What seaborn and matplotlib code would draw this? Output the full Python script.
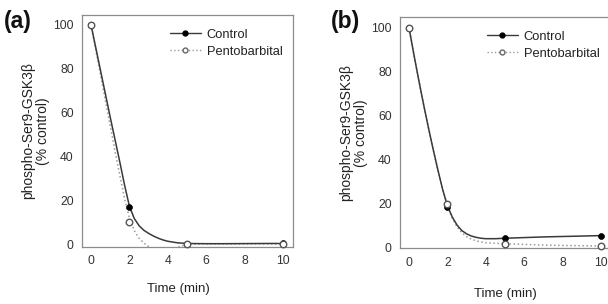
import numpy as np
import pandas as pd
import matplotlib
matplotlib.use('Agg')
import matplotlib.pyplot as plt
from matplotlib.lines import Line2D
import seaborn as sns

# measured points (time in min, % control)
time_pts = [0, 2, 5, 10]
a_control = [100, 17, 0.5, 0.6]
a_pento = [100, 10.5, 0.5, 0.5]
b_control = [100, 18.5, 4.5, 5.5]
b_pento = [100, 20, 1.8, 0.8]

# fitted curves
curve_t = [0, 0.25, 0.5, 0.75, 1, 1.25, 1.5, 1.75, 2, 2.25, 2.5, 2.75, 3, 3.25, 3.5,
           3.75, 4, 4.5, 5, 6, 7, 8, 9, 10]
a_control_fit = [100, 89.5, 79, 68.5, 58, 47.8, 37.6, 27, 17.5, 12, 8.7, 6.6, 5.2, 4.0,
                 3.0, 2.2, 1.6, 0.9, 0.6, 0.5, 0.5, 0.55, 0.6, 0.6]
a_pento_fit = [100, 88.5, 77, 65.5, 54, 42.5, 31.5, 21, 12, 6.5, 3, 0.8, -0.8, -2,
               -2.6, -2.7, -2.5, -1.2, 0.3, 0.4, 0.4, 0.4, 0.4, 0.4]
b_control_fit = [100, 88, 76.5, 65.5, 55, 45, 35.5, 26.5, 19, 14, 10.3, 7.8, 6.3, 5.3,
                 4.7, 4.3, 4.1, 4.1, 4.3, 4.6, 4.9, 5.1, 5.3, 5.5]
b_pento_fit = [100, 88, 76.5, 65.5, 55, 45, 35.5, 26.8, 19.5, 13.5, 9.5, 6.8, 5, 3.9,
               3.1, 2.6, 2.3, 2.0, 1.8, 1.5, 1.2, 1.0, 0.9, 0.8]

series_names = ['Control', 'Pentobarbital']
panel_labels = ['(a)', '(b)']

sns.set_style('white')
plt.rcParams['font.family'] = ['Liberation Sans', 'DejaVu Sans']

LINE_DARK = '#3a3a3a'
LINE_LIGHT = '#9a9a9a'
SPINE = '#8c8c8c'


def style_axes(ax, ylim):
    for s in ax.spines.values():
        s.set_visible(True)
        s.set_color(SPINE)
        s.set_linewidth(0.9)
    ax.set_xlim(-0.47, 10.52)
    ax.set_ylim(*ylim)
    ax.set_xticks([0, 2, 4, 6, 8, 10])
    ax.set_yticks([0, 20, 40, 60, 80, 100])
    ax.tick_params(axis='both', direction='out', length=3, width=0.8, color=SPINE,
                   labelsize=8.8, labelcolor='#333333', pad=3)
    ax.set_xlabel('Time (min)', fontsize=9.5, color='#222222')
    ax.set_ylabel('phospho-Ser9-GSK3β\n(% control)', fontsize=10, color='#222222',
                  labelpad=2, linespacing=1.1)


def draw_panel(ax, ctrl, pento, ctrl_fit, pento_fit, ylim, legend_x):
    fit_df = pd.DataFrame({'t': curve_t, 'c': ctrl_fit, 'p': pento_fit})
    pts_df = pd.DataFrame({'t': time_pts, 'c': ctrl, 'p': pento})

    sns.lineplot(data=fit_df, x='t', y='p', ax=ax, color=LINE_LIGHT, linestyle=':',
                 linewidth=1.1, sort=False, zorder=2)
    sns.lineplot(data=fit_df, x='t', y='c', ax=ax, color=LINE_DARK, linewidth=1.1,
                 sort=False, zorder=3)
    sns.scatterplot(data=pts_df, x='t', y='c', ax=ax, color='black', s=18,
                    edgecolor='black', linewidth=0.5, zorder=4, clip_on=False)
    sns.scatterplot(data=pts_df, x='t', y='p', ax=ax, color='white', s=22,
                    edgecolor='#555555', linewidth=1.0, zorder=5, clip_on=False)

    style_axes(ax, ylim)

    handles = [
        Line2D([], [], color=LINE_DARK, lw=1.0, marker='o', markersize=3.5,
               markerfacecolor='black', markeredgecolor='black'),
        Line2D([], [], color=LINE_LIGHT, lw=1.0, ls=':', marker='o', markersize=3.5,
               markerfacecolor='white', markeredgecolor='#666666'),
    ]
    ax.legend(handles, series_names, loc='upper left', bbox_to_anchor=(legend_x, 0.94),
              frameon=False, fontsize=9.3, handlelength=2.4, handletextpad=0.45,
              labelspacing=0.35, borderpad=0, borderaxespad=0, labelcolor='#222222')


fig = plt.figure(figsize=(6.08, 3.04), dpi=100)
ax_a = fig.add_axes([0.1349, 0.1875, 0.347, 0.763])
ax_b = fig.add_axes([0.6579, 0.1830, 0.347, 0.761])

draw_panel(ax_a, a_control, a_pento, a_control_fit, a_pento_fit, (-1, 104.5), 0.417)
draw_panel(ax_b, b_control, b_pento, b_control_fit, b_pento_fit, (-0.3, 104.9), 0.412)

ax_a.xaxis.set_label_coords(0.455, -0.155)
ax_b.xaxis.set_label_coords(0.5, -0.17)

fig.text(0.006, 0.93, panel_labels[0], fontsize=16.5, fontweight='bold', ha='left',
         va='center', color='#111111')
fig.text(0.544, 0.93, panel_labels[1], fontsize=16.5, fontweight='bold', ha='left',
         va='center', color='#111111')

fig.savefig('out.png', dpi=100)
